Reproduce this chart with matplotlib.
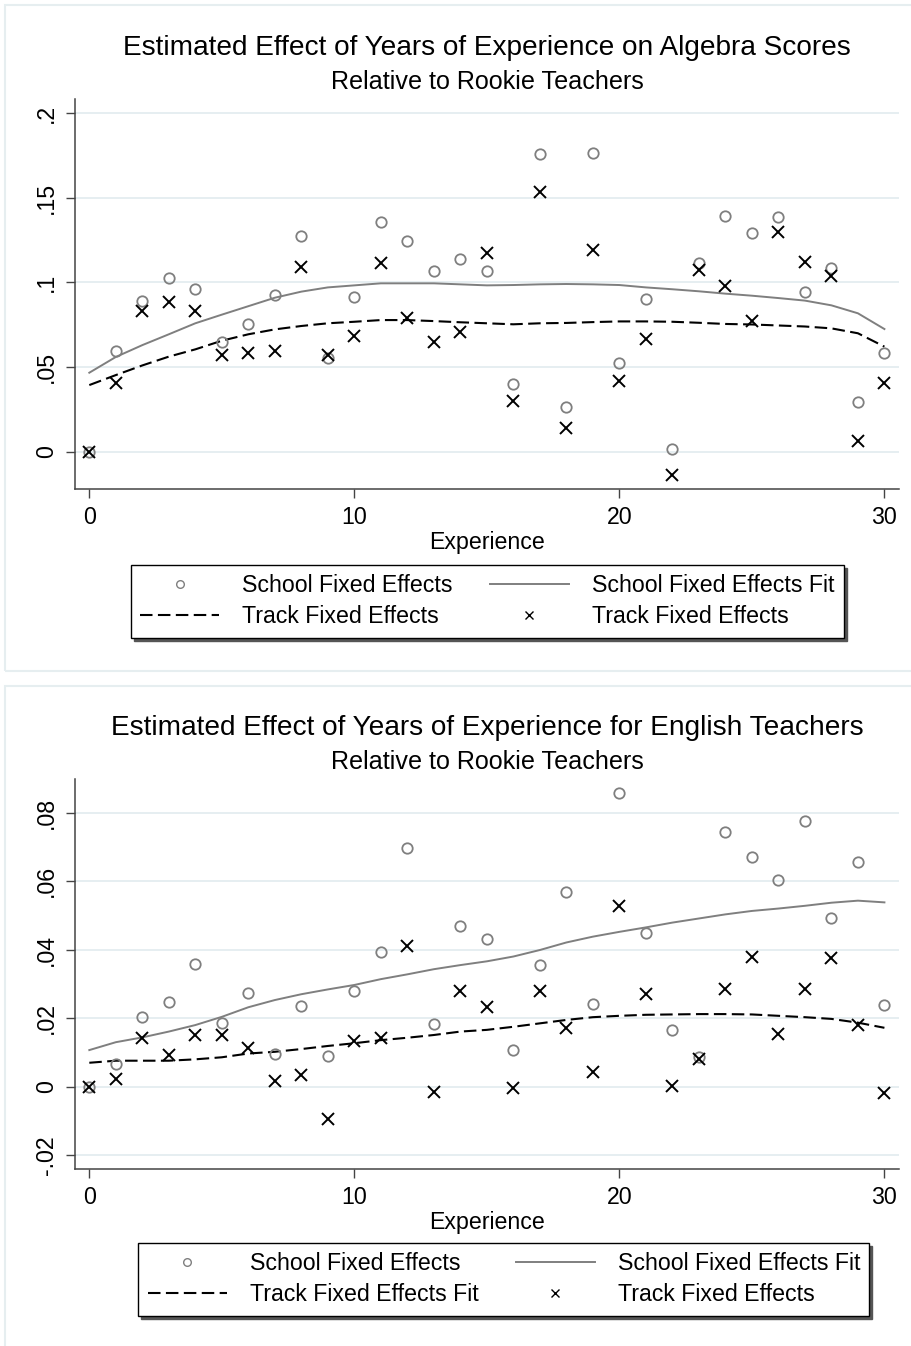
import matplotlib
matplotlib.use("Agg")
import matplotlib.pyplot as plt
from matplotlib.patches import Rectangle

plt.rcParams['font.family'] = ['Liberation Sans', 'DejaVu Sans']

# data
years = list(range(31))

alg_school = [0, .0595, .0891, .1025, .096, .065, .0753, .0924, .1273, .0552, .0916,
              .1358, .1247, .107, .1141, .1066, .04, .176, .0262, .1764, .0526,
              .09, .0016, .1113, .139, .1293, .1385, .0942, .1088, .0292, .0583]
alg_track = [0, .0404, .0833, .0883, .0833, .0571, .0581, .0597, .1094, .0571, .0684,
             .1117, .0788, .065, .0705, .1172, .03, .1537, .0138, .1192, .042,
             .0666, -.0138, .1074, .0979, .0774, .13, .1119, .1038, .0065, .0404]
alg_school_fit = [.0467, .056, .063, .0694, .0759, .081, .086, .091, .0946, .0971, .0983,
                  .0995, .0995, .0995, .0989, .0983, .0985, .0989, .0991, .0989, .0985,
                  .0971, .096, .0948, .0934, .0922, .0908, .0893, .0865, .0818, .0725]
alg_track_fit = [.0394, .0453, .051, .0562, .0605, .0656, .0694, .0723, .0743, .0759, .0768,
                 .0778, .0778, .0772, .0765, .0759, .0753, .0759, .0761, .0766, .077,
                 .077, .0768, .0762, .0755, .0752, .0746, .074, .0729, .070, .0621]

eng_school = [0, .0066, .0204, .0246, .0357, .0187, .0274, .0097, .0236, .0091, .028,
              .0394, .0698, .0183, .0468, .0431, .0107, .0355, .0569, .0241, .0857,
              .0449, .0166, .0088, .0742, .067, .0603, .0776, .0492, .0655, .0238]
eng_track = [0, .0024, .0143, .0094, .0151, .0151, .0114, .0017, .0034, -.0093, .0133,
             .0141, .0412, -.0015, .0279, .0234, -.0005, .028, .017, .0044, .0528,
             .0271, .0003, .008, .0285, .038, .0153, .0284, .0375, .018, -.0019]
eng_school_fit = [.0107, .013, .0144, .0161, .018, .0204, .0232, .0253, .027, .0284, .0297,
                  .0314, .0328, .0343, .0355, .0366, .038, .0399, .0421, .0438, .0452,
                  .0465, .0479, .0491, .0503, .0513, .052, .0528, .0537, .0543, .0538]
eng_track_fit = [.007, .0076, .0076, .0076, .008, .0086, .0097, .0102, .011, .0119, .0127,
                 .0136, .0143, .0151, .0161, .0166, .0175, .0185, .0195, .0203, .0207,
                 .021, .0211, .0212, .0212, .0211, .0207, .0203, .0198, .0187, .0172]

xticks = [0, 10, 20, 30]
alg_yticks = [0, .05, .1, .15, .2]
alg_ylabels = ["0", ".05", ".1", ".15", ".2"]
eng_yticks = [-.02, 0, .02, .04, .06, .08]
eng_ylabels = ["-.02", "0", ".02", ".04", ".06", ".08"]

W, H = 911, 1346
fig = plt.figure(figsize=(W / 100, H / 100), dpi=100)

# light frames around each graph region
fig.patches.append(Rectangle((5 / W, 1 - 671 / H), 1.0, (671 - 5) / H, transform=fig.transFigure,
                             fill=False, ec='#e6eef0', lw=1.5))
fig.patches.append(Rectangle((5 / W, -0.05), 1.0, 0.05 + 1 - 686 / H, transform=fig.transFigure,
                             fill=False, ec='#e6eef0', lw=1.5))

grey = '#7f7f7f'
dash = (0, (6, 2.6))


def panel(rect, school, track, school_fit, track_fit, yticks, ylabels, ylim,
          title, dash_label, leg_x, leg_y):
    ax = fig.add_axes(rect)
    ax.plot(years, school_fit, color=grey, lw=1.4, zorder=2)
    ax.plot(years, track_fit, color='black', lw=1.5, ls=dash, zorder=2)
    ax.plot(years, school, ls='none', marker='o', ms=7.5, mfc='none', mec=grey, mew=1.3, zorder=3)
    ax.plot(years, track, ls='none', marker='x', ms=8.3, mec='black', mew=1.4, zorder=4)

    ax.set_xlim(-0.54, 30.55)
    ax.set_ylim(*ylim)
    ax.set_xticks(xticks)
    ax.set_yticks(yticks)
    ax.set_yticklabels(ylabels, rotation=90, va='center')
    ax.grid(axis='y', color='#e4edf0', lw=1.3)
    ax.set_axisbelow(True)
    for s in ['top', 'right']:
        ax.spines[s].set_visible(False)
    for s in ['left', 'bottom']:
        ax.spines[s].set_color('#444444')
        ax.spines[s].set_linewidth(1.1)
    ax.tick_params(length=6.5, width=1.0, color='#444444', labelsize=16.7, pad=6)
    ax.set_xlabel('Experience', fontsize=16.7, labelpad=1)

    h_circ, = ax.plot([], [], ls='none', marker='o', ms=5.5, mfc='none', mec=grey, mew=1.0)
    h_fit, = ax.plot([], [], color=grey, lw=1.4)
    h_dash, = ax.plot([], [], color='black', lw=1.5, ls=dash)
    h_x, = ax.plot([], [], ls='none', marker='x', ms=6, mec='black', mew=1.0)
    leg = ax.legend([h_circ, h_dash, h_fit, h_x],
                    ['School Fixed Effects', dash_label, 'School Fixed Effects Fit', 'Track Fixed Effects'],
                    ncol=2, loc='upper center', bbox_to_anchor=(leg_x, leg_y), borderaxespad=0,
                    fontsize=16.7, handlelength=3.4, handletextpad=1.0, columnspacing=1.6,
                    labelspacing=0.35, borderpad=0.4, fancybox=False, framealpha=1,
                    shadow={'color': '#555555', 'alpha': 1})
    leg.get_frame().set_edgecolor('black')
    leg.get_frame().set_linewidth(1.0)

    cx = (75 + 899) / 2 / W
    top_px = (1 - (rect[1] + rect[3])) * H
    fig.text(cx, 1 - (top_px - 51) / H, title, ha='center', va='center', fontsize=20.2)
    fig.text(cx, 1 - (top_px - 17) / H, 'Relative to Rookie Teachers', ha='center', va='center',
             fontsize=18.1)
    return ax


ax_w = 824 / W
ax_h = 390 / H
panel([75 / W, 1 - 489 / H, ax_w, ax_h], alg_school, alg_track, alg_school_fit, alg_track_fit,
      alg_yticks, alg_ylabels, (-0.022, 0.2084),
      'Estimated Effect of Years of Experience on Algebra Scores', 'Track Fixed Effects',
      0.5006, -0.195)
panel([75 / W, 1 - 1169 / H, ax_w, ax_h], eng_school, eng_track, eng_school_fit, eng_track_fit,
      eng_yticks, eng_ylabels, (-0.024, 0.0898),
      'Estimated Effect of Years of Experience for English Teachers', 'Track Fixed Effects Fit',
      0.5206, -0.19)

fig.savefig('out.png', dpi=100)
